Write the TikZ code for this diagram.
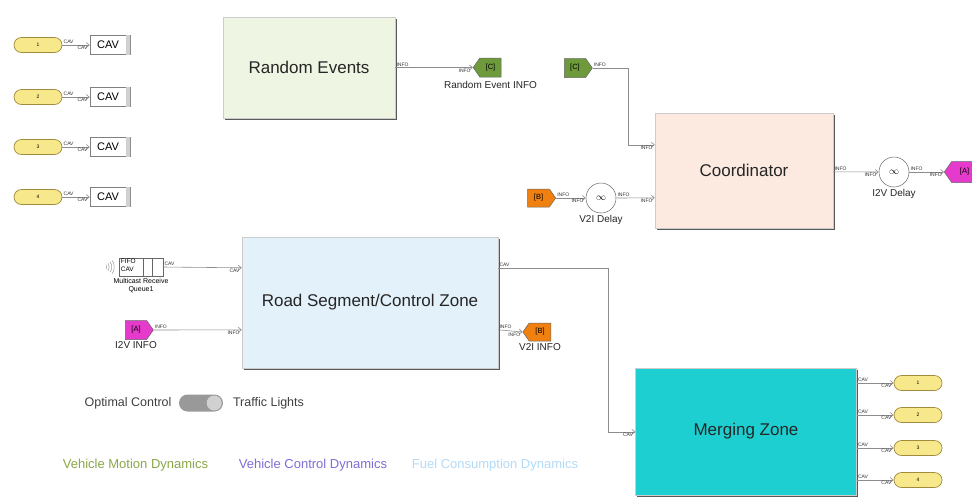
\documentclass[tikz,border=0pt]{standalone}
\usepackage{fontspec}
\setmainfont{Liberation Sans}
\usetikzlibrary{arrows.meta,shapes.symbols,shapes.misc,shadows,calc,positioning}

\definecolor{reFill}{HTML}{EEF5E2}
\definecolor{coFill}{HTML}{FCEAE1}
\definecolor{rsFill}{HTML}{E3F1FB}
\definecolor{mzFill}{HTML}{1DCFD0}
\definecolor{pillFill}{HTML}{F8E88C}
\definecolor{pillLine}{HTML}{A08C3C}
\definecolor{tagGreen}{HTML}{6E9A3C}
\definecolor{tagOrange}{HTML}{F0800F}
\definecolor{tagMagenta}{HTML}{E63ACD}
\definecolor{txtGreen}{HTML}{8AA849}
\definecolor{txtPurple}{HTML}{7B6FD6}
\definecolor{txtBlue}{HTML}{B3DBF7}

\begin{document}
\begin{tikzpicture}[x=1pt,y=-1pt,
  conn/.style={draw=black!45, line width=0.6pt, -{Straight Barb[length=3pt,width=5pt]}},
  plab/.style={font=\fontsize{5}{5}\selectfont, text=black!80, inner sep=1pt},
  block/.style={draw=black!20, line width=0.4pt,
    drop shadow={shadow xshift=1.6pt, shadow yshift=-1.6pt, fill=black!65, opacity=1},
    font=\fontsize{17}{20}\selectfont, text=black!85},
  pill/.style={rounded rectangle, draw=pillLine, line width=0.7pt, fill=pillFill,
    minimum width=48pt, minimum height=15pt, inner sep=0pt, font=\fontsize{5}{5}\selectfont},
  cavbox/.style={draw=black!50, line width=0.5pt, fill=white, minimum width=36pt,
    minimum height=19pt, inner sep=0pt, font=\fontsize{11}{11}\selectfont},
  tagE/.style={signal, signal to=east, signal pointer angle=110, draw=black!60, line width=0.5pt,
    minimum width=28pt, minimum height=19pt, inner sep=1pt, font=\fontsize{7.5}{7.5}\selectfont},
  tagW/.style={signal, signal to=west, signal pointer angle=110, draw=black!60, line width=0.5pt,
    minimum width=28pt, minimum height=19pt, inner sep=1pt, font=\fontsize{7.5}{7.5}\selectfont},
  delay/.style={circle, draw=black!60, line width=0.5pt, fill=white, minimum size=30pt, inner sep=0pt},
  capt/.style={font=\fontsize{10}{11}\selectfont, text=black!85, inner sep=0pt},
  note/.style={font=\fontsize{13}{14}\selectfont, inner sep=0pt},
  swlab/.style={font=\fontsize{12.5}{14}\selectfont, text=black!75, inner sep=0pt}
]
\useasboundingbox[fill=white] (0,0) rectangle (972,499);

% ---------- vehicle inputs (top left) ----------
\foreach \i/\y in {1/45,2/97,3/147,4/197}{
  \node[pill] (p\i) at (38,\y) {\i};
  \node[cavbox] (c\i) at (108,\y) {CAV};
  \fill[black!18] (c\i.north east) rectangle ($(c\i.south east)+(5,0)$);
  \draw[black!45, line width=0.5pt] ($(c\i.north east)+(3.5,0)$) -- ($(c\i.south east)+(3.5,0)$);
  \draw[conn] (p\i.east) node[plab, above right] {CAV} -- (c\i.west) node[plab, below left, xshift=-1pt] {CAV};
}

% ---------- Random Events ----------
\node[block, fill=reFill, minimum width=172pt, minimum height=101pt] (re) at (309,67.5) {Random Events};
\node[tagW, fill=tagGreen] (cgoto) at (490.5,67.5) {[C]};
\node[capt, below=4pt of cgoto] {Random Event INFO};
\draw[conn] (re.east) node[plab, above right] {INFO} -- (cgoto.west) node[plab, below left, xshift=-1pt] {INFO};

% ---------- Coordinator ----------
\node[block, fill=coFill, minimum width=178pt, minimum height=115pt] (co) at (744,170.5) {Coordinator};
\coordinate (coIn1) at ($(co.north west)+(0,32)$);
\coordinate (coIn2) at ($(co.north west)+(0,85)$);
\coordinate (coOut) at ($(co.north east)+(0,59)$);

\node[tagE, fill=tagGreen] (cfrom) at (575,68) {[C]};
\draw[conn] (cfrom.east) node[plab, above right] {INFO} -- ++(36,0) |- (coIn1) node[plab, below left, xshift=-1pt] {INFO};

\node[tagE, fill=tagOrange, minimum height=18pt] (bfrom) at (538.5,198) {[B]};
\node[delay] (v2i) at (601,198) {$\infty$};
\node[capt, below=2pt of v2i] {V2I Delay};
\draw[conn] (bfrom.east) node[plab, above right] {INFO} -- (v2i.west) node[plab, below left, xshift=-1pt] {INFO};
\draw[conn] (v2i.east) node[plab, above right] {INFO} -- (coIn2) node[plab, below left, xshift=-1pt] {INFO};

\node[delay] (i2v) at (894,172) {$\infty$};
\node[capt, below=2pt of i2v] {I2V Delay};
\node[tagW, fill=tagMagenta, minimum height=21pt] (agoto) at (962,172) {\hspace*{5pt}[A]};
\draw[conn] (coOut) node[plab, above right] {INFO} -- (i2v.west) node[plab, below left, xshift=-1pt] {INFO};
\draw[conn] (i2v.east) node[plab, above right] {INFO} -- (agoto.west) node[plab, below left, xshift=-1pt] {INFO};

% ---------- Road Segment / Control Zone ----------
\node[block, fill=rsFill, minimum width=256pt, minimum height=131pt] (rs) at (370,302.5) {Road Segment/Control Zone};
\coordinate (rsIn1) at ($(rs.north west)+(0,31)$);
\coordinate (rsIn2) at ($(rs.north west)+(0,93)$);
\coordinate (rsOut1) at ($(rs.north east)+(0,31)$);
\coordinate (rsOut2) at ($(rs.north east)+(0,93)$);

% multicast receive queue
\node[draw=black!60, line width=0.5pt, fill=white, minimum width=44pt, minimum height=18pt, inner sep=0pt] (mrq) at (141,267) {};
\draw[black!60, line width=0.5pt] ($(mrq.north west)+(24,0)$) -- ($(mrq.south west)+(24,0)$)
  ($(mrq.north west)+(33,0)$) -- ($(mrq.south west)+(33,0)$);
\node[font=\fontsize{6.5}{7}\selectfont, anchor=north west, inner sep=0pt, align=left] at ($(mrq.north west)+(2,1.5)$) {FIFO\\[0.5pt]CAV};
% incoming-message waves
\coordinate (wavec) at ($(mrq.west)+(-16,0)$);
\foreach \r in {4,6.5,9,11.5}
  \draw[black!45, line width=0.4pt] (wavec) ++(-35:\r) arc[start angle=-35, end angle=35, radius=\r];
\node[font=\fontsize{7}{7.5}\selectfont, align=center, inner sep=0pt, below=2pt of mrq] {Multicast Receive\\Queue1};
\draw[conn] (mrq.east) node[plab, above right] {CAV} -- (rsIn1) node[plab, below left, xshift=-1pt] {CAV};

\node[tagE, fill=tagMagenta, minimum height=19pt] (afrom) at (136,330) {[A]};
\node[capt, below=2pt of afrom] {I2V INFO};
\draw[conn] (afrom.east) node[plab, above right] {INFO} -- (rsIn2) node[plab, below left, xshift=-1pt] {INFO};

\node[tagW, fill=tagOrange, minimum height=18pt] (bgoto) at (540,332) {[B]};
\node[capt, below=2pt of bgoto] {V2I INFO};
\draw[conn] (rsOut2) node[plab, above right] {INFO} -- (bgoto.west) node[plab, below left, xshift=-1pt] {INFO};

% ---------- Merging Zone ----------
\node[block, fill=mzFill, minimum width=221pt, minimum height=127pt] (mz) at (746,431.5) {Merging Zone};
\coordinate (mzIn) at ($(mz.north west)+(0,64)$);
\draw[conn] (rsOut1) node[plab, above right] {CAV} -- ++(110,0) |- (mzIn) node[plab, below left, xshift=-1pt] {CAV};

\foreach \i/\y in {1/383,2/415,3/448,4/480}{
  \node[pill] (m\i) at (918,\y) {\i};
  \coordinate (mzOut\i) at (mz.east |- m\i.west);
  \draw[conn] (mzOut\i) node[plab, above right] {CAV} -- (m\i.west) node[plab, below left, xshift=-1pt] {CAV};
}

% ---------- control mode switch ----------
\node[swlab] (optc) at (128,403) {Optimal Control};
\node[rounded rectangle, fill=black!40, minimum width=44pt, minimum height=17pt, inner sep=0pt] (tog) at (201,403) {};
\node[circle, fill=black!18, minimum size=15pt, inner sep=0pt] (knob) at ($(tog.east)+(-9,0)$) {};
\node[swlab] (trl) at (268.5,403) {Traffic Lights};

% ---------- dynamics labels ----------
\node[note, text=txtGreen] (vmd) at (135.5,465) {Vehicle Motion Dynamics};
\node[note, text=txtPurple] (vcd) at (313,465) {Vehicle Control Dynamics};
\node[note, text=txtBlue] (fcd) at (495,465) {Fuel Consumption Dynamics};
\end{tikzpicture}
\end{document}
